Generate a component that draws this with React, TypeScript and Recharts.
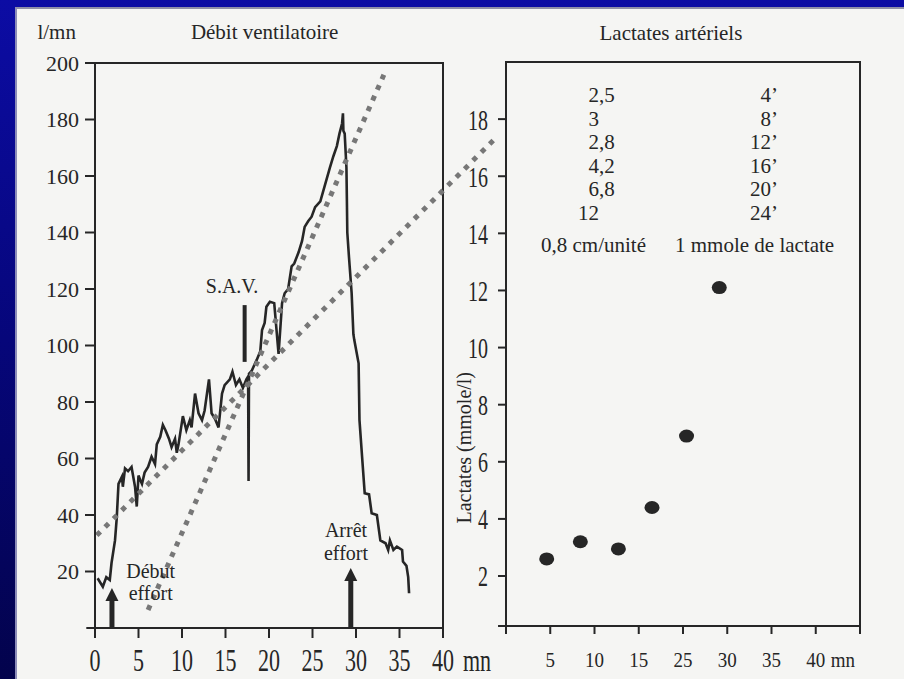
import React from "react";
import {
  LineChart, Line, ScatterChart, Scatter, XAxis, YAxis,
  ReferenceLine, ReferenceDot, ReferenceArea,
} from "recharts";

// Débit ventilatoire (l/mn) against time (mn)
const ventTime = [
  0.3, 0.9, 1.3, 1.7, 1.9, 2.3, 2.5, 2.7, 3.1, 3.2, 3.45, 3.8, 4.2, 4.6, 4.8, 5.0,
  5.2, 5.4, 5.7, 6.1, 6.5, 6.9, 7.1, 7.5, 7.8, 8.1, 8.5, 8.8, 9.2, 9.4, 9.6, 10.1, 10.5,
  10.9, 11.1, 11.5, 11.7, 11.9, 12.3, 12.6, 13.1, 13.4, 13.8, 14.2, 14.6, 14.9, 15.5, 15.8,
  16.2, 16.6, 17.0, 17.4, 17.6, 17.65, 17.7, 18.0, 18.6, 19.0, 19.2, 19.5, 19.7, 20.1,
  20.6, 21.1, 21.5, 21.8, 22.2, 22.6, 22.9, 23.4, 23.8, 24.1, 24.5, 24.9, 25.3, 25.9,
  26.6, 27.0, 27.4, 27.8, 28.1, 28.4, 28.5, 28.55, 28.7, 28.9, 28.95, 29.0, 29.2, 29.5,
  29.7, 29.8, 30.3, 30.4, 30.7, 31.0, 31.5, 31.8, 32.4, 32.8, 33.4, 33.7, 33.9, 34.3,
  34.7, 35.3, 35.4, 35.8, 36.0, 36.1,
];
const ventFlow = [
  17.6, 14.6, 18, 17, 23, 31, 39, 51, 53.6, 50, 56.5, 55.5, 57, 50, 43, 54,
  52.4, 51, 55, 57, 60.6, 58, 65, 67.7, 71.9, 70, 67, 64, 67, 62, 65, 75, 70,
  73.6, 71, 83, 79.5, 76, 73.6, 77, 88, 76, 74, 71, 83, 86, 88, 90.7,
  86, 88, 85, 88, 89, 52, 90, 91, 95, 98, 105.5, 108, 113.7, 115.5,
  115, 97, 115, 118.5, 120, 128, 129, 133, 137, 142, 144, 145.6, 149, 151,
  158.6, 163, 167, 170.6, 175, 178.6, 182.2, 176, 175, 163, 152, 140, 131, 118.5,
  104, 102, 93.7, 73.6, 60.6, 47.7, 47.3, 40.6, 40, 31, 30, 27.6, 31, 27.6,
  28.8, 27.6, 23.5, 22, 18, 12.3,
];
const ventXTicks = [0, 5, 10, 15, 20, 25, 30, 35, 40];
const ventXLabels = ["0", "5", "10", "15", "20", "25", "30", "35", "40"];
const ventYTicks = [20, 40, 60, 80, 100, 120, 140, 160, 180, 200];

// the two dotted threshold lines, end points in (mn, l/mn)
const slopeLow = [{ x: 0.2, y: 32.8 }, { x: 46, y: 173.3 }];
const slopeHigh = [{ x: 6.1, y: 6.4 }, { x: 33.2, y: 195.8 }];

// Lactates artériels
const lactMinutes = [4.6, 8.4, 12.7, 16.5, 20.4, 24.1];
const lactValues = [2.6, 3.2, 2.95, 4.4, 6.9, 12.1];
const lactXTicks = [0, 5, 10, 15, 20, 25, 30, 35, 40];
const lactXLabels = ["", "5", "10", "15", "25", "30", "35", "40", ""];
const lactYTicks = [2, 4, 6, 8, 10, 12, 14, 16, 18];

const tableValues = ["2,5", "3", "2,8", "4,2", "6,8", "12"];
const tableTimes = ["4’", "8’", "12’", "16’", "20’", "24’"];
const tableScale = ["0,8 cm/unité", "1 mmole de lactate"];

const ventData = ventTime.map((t, i) => ({ t, v: ventFlow[i] }));
const lactData = lactMinutes.map((t, i) => ({ t, v: lactValues[i] }));

const SERIF = '"Liberation Serif", "Times New Roman", serif';
const INK = "#262626";
const DOTS = "#777777";

const caption = (lines: string[], size: number, gap: number) => (p: any) => (
  <text x={p.cx} y={p.cy} textAnchor="middle" fontFamily={SERIF} fontSize={size} fill={INK}>
    {lines.map((l, i) => (
      <tspan key={i} x={p.cx} dy={i === 0 ? 0 : gap}>{l}</tspan>
    ))}
  </text>
);

const arrowShape = (p: any) => {
  const { x1, y1, x2, y2 } = p;
  return (
    <g>
      <line x1={x1} y1={y1} x2={x2} y2={y2 + 10} stroke={INK} strokeWidth={5} />
      <polygon points={`${x2},${y2} ${x2 - 6.5},${y2 + 13} ${x2 + 6.5},${y2 + 13}`} fill={INK} />
    </g>
  );
};

function VentXTick(props: any) {
  const { x, y, payload } = props;
  const i = ventXTicks.indexOf(payload.value);
  return (
    <g transform={`translate(${x},${y + 31}) scale(1,1.4)`} fontFamily={SERIF} fontSize={22} fill={INK}>
      <text textAnchor="middle">{ventXLabels[i]}</text>
      {i === ventXTicks.length - 1 && <text x={20}>mn</text>}
    </g>
  );
}

function LactXTick(props: any) {
  const { x, y, payload } = props;
  const i = lactXTicks.indexOf(payload.value);
  return (
    <g transform={`translate(${x},${y + 31}) scale(1,1.15)`} fontFamily={SERIF} fontSize={19} fill={INK}>
      <text textAnchor="middle">{lactXLabels[i]}</text>
      {lactXLabels[i] === "40" && <text x={15}>mn</text>}
    </g>
  );
}

function LactYTick(props: any) {
  const { x, y, payload } = props;
  return (
    <g transform={`translate(${x},${y}) scale(1,1.45)`}>
      <text textAnchor="end" dy="0.36em" fontFamily={SERIF} fontSize={20} fill={INK}>
        {payload.value}
      </text>
    </g>
  );
}

function tableShape(p: any) {
  const { cx, cy } = p;
  return (
    <g fontFamily={SERIF} fontSize={21} fill={INK}>
      {tableValues.map((v, i) => {
        const [a, b] = v.split(",");
        const y = cy + i * 23.6;
        return (
          <g key={i}>
            <text x={cx} y={y} textAnchor="end">{a}</text>
            {b && <text x={cx} y={y}>,{b}</text>}
            <text x={cx + 179} y={y} textAnchor="end">{tableTimes[i]}</text>
          </g>
        );
      })}
      <text x={cx - 58} y={cy + 150}>{tableScale[0]}</text>
      <text x={cx + 76} y={cy + 150}>{tableScale[1]}</text>
    </g>
  );
}

const axisStyle = { stroke: INK, strokeWidth: 2 };

function VentChart() {
  return (
    <LineChart width={520} height={679} data={ventData} margin={{ top: 63, right: 77, bottom: 11, left: 35 }}>
      <ReferenceArea x1={0} x2={40} y1={0} y2={200} fill="none" stroke={INK} strokeWidth={2} ifOverflow="visible" />
      <XAxis
        type="number" dataKey="t" domain={[0, 40]} ticks={ventXTicks} allowDataOverflow
        height={40} tickSize={10} axisLine={axisStyle} tickLine={axisStyle} tick={<VentXTick />}
      />
      <YAxis
        type="number" domain={[0, 200]} ticks={ventYTicks} width={60} tickSize={10} tickMargin={6}
        axisLine={axisStyle} tickLine={axisStyle}
        tick={{ fontFamily: SERIF, fontSize: 22, fill: INK }}
      />
      <ReferenceLine segment={[{ x: -1, y: 0 }, { x: 0, y: 0 }]} stroke={INK} strokeWidth={2} ifOverflow="visible" />
      <Line type="linear" dataKey="v" stroke={INK} strokeWidth={2.6} dot={false} isAnimationActive={false} />
      <ReferenceLine segment={slopeLow} stroke={DOTS} strokeWidth={5} strokeDasharray="5 6.8" ifOverflow="visible" />
      <ReferenceLine segment={slopeHigh} stroke={DOTS} strokeWidth={5} strokeDasharray="5 6.6" ifOverflow="visible" />
      <ReferenceLine segment={[{ x: 17.2, y: 94.2 }, { x: 17.2, y: 114.3 }]} stroke={INK} strokeWidth={4} ifOverflow="visible" />
      <ReferenceLine segment={[{ x: 1.95, y: 0 }, { x: 1.95, y: 14.2 }]} shape={arrowShape} ifOverflow="visible" />
      <ReferenceLine segment={[{ x: 29.4, y: 0 }, { x: 29.4, y: 21.2 }]} shape={arrowShape} ifOverflow="visible" />
      <ReferenceDot x={-4.4} y={208.5} r={0} ifOverflow="visible" shape={caption(["l/mn"], 21, 0)} />
      <ReferenceDot x={19.5} y={208.5} r={0} ifOverflow="visible" shape={caption(["Débit ventilatoire"], 21, 0)} />
      <ReferenceDot x={15.75} y={118.6} r={0} ifOverflow="visible" shape={caption(["S.A.V."], 20, 0)} />
      <ReferenceDot x={6.4} y={17.7} r={0} ifOverflow="visible" shape={caption(["Début", "effort"], 20, 22)} />
      <ReferenceDot x={28.85} y={32.2} r={0} ifOverflow="visible" shape={caption(["Arrêt", "effort"], 20, 23)} />
    </LineChart>
  );
}

function LactChart() {
  return (
    <ScatterChart width={454} height={679} margin={{ top: 62, right: 44, bottom: 13, left: 6 }}>
      <ReferenceArea x1={0} x2={40} y1={0.25} y2={20} fill="none" stroke={INK} strokeWidth={2} ifOverflow="visible" />
      <XAxis
        type="number" dataKey="t" domain={[0, 40]} ticks={lactXTicks} allowDataOverflow
        height={40} tickSize={8} axisLine={axisStyle} tickLine={axisStyle} tick={<LactXTick />}
      />
      <YAxis
        type="number" dataKey="v" domain={[0.25, 20]} ticks={lactYTicks} allowDataOverflow
        width={50} tickSize={8} tickMargin={10} axisLine={axisStyle} tickLine={axisStyle} tick={<LactYTick />}
        label={{
          content: (p: any) => {
            const vb = p.viewBox;
            const x = vb.x + 15;
            const y = vb.y + vb.height * 0.684;
            return (
              <text x={x} y={y} transform={`rotate(-90 ${x} ${y})`} textAnchor="middle"
                fontFamily={SERIF} fontSize={20} fill={INK}>
                Lactates (mmole/l)
              </text>
            );
          },
        }}
      />
      <ReferenceLine segment={[{ x: -0.9, y: 0.25 }, { x: 0, y: 0.25 }]} stroke={INK} strokeWidth={2} ifOverflow="visible" />
      <ReferenceDot x={18.64} y={20.77} r={0} ifOverflow="visible" shape={caption(["Lactates artériels"], 21, 0)} />
      <ReferenceDot x={10.51} y={18.6} r={0} ifOverflow="visible" shape={tableShape} />
      <Scatter
        data={lactData} isAnimationActive={false}
        shape={(p: any) => <ellipse cx={p.cx} cy={p.cy} rx={7.5} ry={6.5} fill={INK} />}
      />
    </ScatterChart>
  );
}

export default function App() {
  return (
    <div style={{
      position: "absolute", left: 0, top: 0, width: 904, height: 679, overflow: "hidden",
      background: "linear-gradient(180deg, #0c0ca4 0%, #06067a 50%, #03034c 100%)",
    }}>
      <div style={{
        position: "absolute", left: 15, top: 7, right: 0, bottom: 0, background: "#f5f5f3",
        borderLeft: "2px solid #8c8cb8", borderTop: "2px solid #9090a8",
      }} />
      <div style={{ position: "absolute", left: 0, top: 0 }}>
        <VentChart />
      </div>
      <div style={{ position: "absolute", left: 450, top: 0 }}>
        <LactChart />
      </div>
    </div>
  );
}
